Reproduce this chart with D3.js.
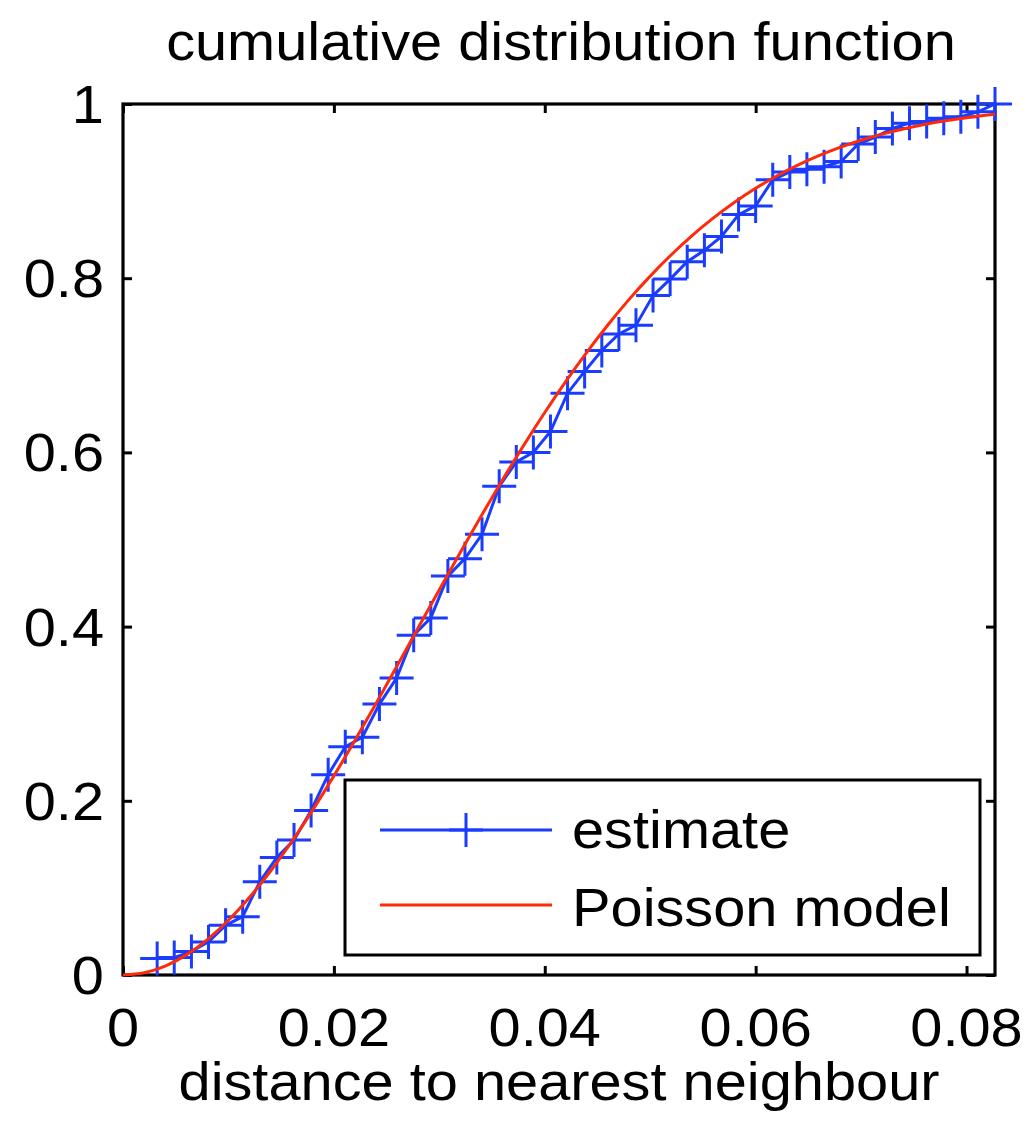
<!DOCTYPE html>
<html>
<head>
<meta charset="utf-8">
<script src="https://cdn.jsdelivr.net/npm/d3@7"></script>
<style>
  html, body { margin: 0; padding: 0; background: #fff; }
  svg { display: block; }
  text { font-family: "Liberation Sans", Arial, Helvetica, sans-serif; fill: #000; }
</style>
</head>
<body>
<script>
// ---------------- data ----------------
const titleText = "cumulative distribution function";
const xLabelText = "distance to nearest neighbour";

const xTickValues = [0, 0.02, 0.04, 0.06, 0.08];
const xTickLabels = ["0", "0.02", "0.04", "0.06", "0.08"];
const yTickValues = [0, 0.2, 0.4, 0.6, 0.8, 1];
const yTickLabels = ["0", "0.2", "0.4", "0.6", "0.8", "1"];

// empirical estimate (blue, '+' markers)
const estimateX = [0.00324, 0.00486, 0.00649, 0.00811, 0.00973, 0.01135, 0.01297, 0.01459, 0.01622, 0.01784,
  0.01946, 0.02108, 0.02270, 0.02432, 0.02595, 0.02757, 0.02919, 0.03081, 0.03243, 0.03405,
  0.03568, 0.03730, 0.03892, 0.04054, 0.04216, 0.04378, 0.04541, 0.04703, 0.04865, 0.05027,
  0.05189, 0.05351, 0.05514, 0.05676, 0.05838, 0.06000, 0.06162, 0.06324, 0.06486, 0.06649,
  0.06811, 0.06973, 0.07135, 0.07297, 0.07459, 0.07622, 0.07784, 0.07946, 0.08108, 0.08270];
const estimateY = [0.019, 0.020, 0.027, 0.038, 0.057, 0.067, 0.107, 0.135, 0.155, 0.189,
  0.230, 0.262, 0.273, 0.311, 0.341, 0.390, 0.410, 0.458, 0.478, 0.506,
  0.561, 0.589, 0.600, 0.624, 0.668, 0.693, 0.717, 0.736, 0.746, 0.780,
  0.799, 0.819, 0.832, 0.848, 0.873, 0.883, 0.913, 0.922, 0.925, 0.928,
  0.934, 0.954, 0.962, 0.972, 0.978, 0.980, 0.9835, 0.9855, 0.991, 1.000];

// Poisson model (red line)
const modelX = [0, 0.002, 0.004, 0.006, 0.008, 0.010, 0.012, 0.014, 0.016, 0.018, 0.020,
  0.022, 0.024, 0.026, 0.028, 0.030, 0.032, 0.034, 0.036, 0.038, 0.040,
  0.042, 0.044, 0.046, 0.048, 0.050, 0.052, 0.054, 0.056, 0.058, 0.060,
  0.062, 0.064, 0.066, 0.068, 0.070, 0.072, 0.074, 0.076, 0.078, 0.080, 0.082, 0.0827];
const modelY = [0, 0.0026, 0.0103, 0.0231, 0.0407, 0.0628, 0.0892, 0.1194, 0.1530, 0.1896, 0.2286,
  0.2695, 0.3118, 0.3550, 0.3987, 0.4422, 0.4853, 0.5276, 0.5686, 0.6081, 0.6458,
  0.6816, 0.7152, 0.7466, 0.7757, 0.8024, 0.8269, 0.8492, 0.8692, 0.8872, 0.9032,
  0.9174, 0.9299, 0.9407, 0.9502, 0.9584, 0.9654, 0.9713, 0.9764, 0.9807, 0.9843, 0.9873, 0.9882];

const legendLabels = ["estimate", "Poisson model"];
const seriesColors = ["#1a3cff", "#ff2a0a"];

// ---------------- layout ----------------
const W = 1035, H = 1125;
const plot = { left: 123, right: 995, top: 104, bottom: 975 };
const FS = 53, SX = 1.09;

const svg = d3.select("body").append("svg").attr("width", W).attr("height", H);

const x = d3.scaleLinear().domain([0, 0.0827]).range([plot.left, plot.right]);
const y = d3.scaleLinear().domain([0, 1]).range([plot.bottom, plot.top]);

function addText(g, str, tx, ty, anchor) {
  return g.append("text")
    .attr("transform", `translate(${tx},${ty}) scale(${SX},1)`)
    .attr("text-anchor", anchor)
    .style("font-size", FS + "px")
    .text(str);
}

// axes ticks (inward, all four sides)
const tick = 9;
function styleAxis(g) {
  g.select(".domain").remove();
  g.selectAll(".tick line").attr("stroke", "#000").attr("stroke-width", 3);
  g.selectAll(".tick text").remove();
}
svg.append("g").attr("transform", `translate(0,${plot.bottom})`)
  .call(d3.axisBottom(x).tickValues(xTickValues).tickSize(-tick)).call(styleAxis);
svg.append("g").attr("transform", `translate(0,${plot.top})`)
  .call(d3.axisTop(x).tickValues(xTickValues).tickSize(-tick)).call(styleAxis);
svg.append("g").attr("transform", `translate(${plot.left},0)`)
  .call(d3.axisLeft(y).tickValues(yTickValues).tickSize(-tick)).call(styleAxis);
svg.append("g").attr("transform", `translate(${plot.right},0)`)
  .call(d3.axisRight(y).tickValues(yTickValues).tickSize(-tick)).call(styleAxis);

// box
svg.append("rect")
  .attr("x", plot.left).attr("y", plot.top)
  .attr("width", plot.right - plot.left).attr("height", plot.bottom - plot.top)
  .attr("fill", "none").attr("stroke", "#000").attr("stroke-width", 3.2);

// tick labels
const labels = svg.append("g");
xTickValues.forEach((v, i) => addText(labels, xTickLabels[i], x(v), 1046, "middle"));
yTickValues.forEach((v, i) => addText(labels, yTickLabels[i], 104, y(v) + 19, "end"));

// title and axis label
addText(svg, titleText, (plot.left + plot.right) / 2 + 2, 60, "middle");
addText(svg, xLabelText, (plot.left + plot.right) / 2, 1100, "middle");

// estimate series
const est = estimateX.map((v, i) => [v, estimateY[i]]);
const line = d3.line().x(d => x(d[0])).y(d => y(d[1]));
svg.append("path").datum(est)
  .attr("d", line).attr("fill", "none")
  .attr("stroke", seriesColors[0]).attr("stroke-width", 3);

const ms = 17;
function plus(g, cx, cy, color) {
  g.append("path")
    .attr("d", `M${cx - ms},${cy}H${cx + ms}M${cx},${cy - ms}V${cy + ms}`)
    .attr("stroke", color).attr("stroke-width", 3).attr("fill", "none");
}
const markers = svg.append("g");
est.forEach(d => plus(markers, x(d[0]), y(d[1]), seriesColors[0]));

// model series
const mod = modelX.map((v, i) => [v, modelY[i]]);
svg.append("path").datum(mod)
  .attr("d", d3.line().x(d => x(d[0])).y(d => y(d[1])).curve(d3.curveMonotoneX))
  .attr("fill", "none").attr("stroke", seriesColors[1]).attr("stroke-width", 3);

// legend
const lg = svg.append("g");
lg.append("rect").attr("x", 345).attr("y", 780).attr("width", 635).attr("height", 175)
  .attr("fill", "#fff").attr("stroke", "#000").attr("stroke-width", 3);
const rowsY = [830, 905];
const baseY = [848, 926];
lg.append("line").attr("x1", 380).attr("x2", 552).attr("y1", rowsY[0]).attr("y2", rowsY[0])
  .attr("stroke", seriesColors[0]).attr("stroke-width", 3);
plus(lg, 466, rowsY[0], seriesColors[0]);
lg.append("line").attr("x1", 380).attr("x2", 552).attr("y1", rowsY[1]).attr("y2", rowsY[1])
  .attr("stroke", seriesColors[1]).attr("stroke-width", 3);
legendLabels.forEach((t, i) => addText(lg, t, 572, baseY[i], "start"));
</script>
</body>
</html>
